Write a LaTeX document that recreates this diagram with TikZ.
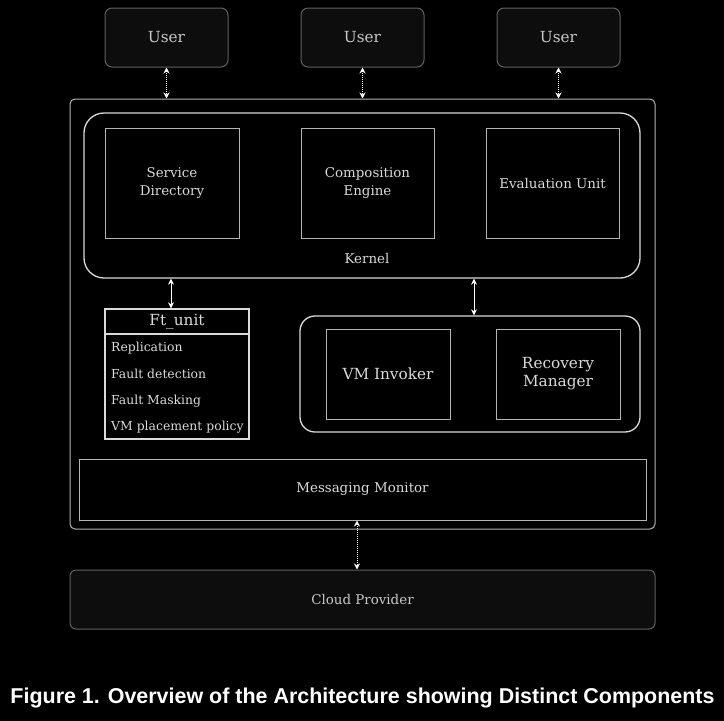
\documentclass[tikz,border=0pt]{standalone}
\usepackage{fontspec}
\setmainfont{DejaVu Serif}
\newfontfamily\capfont{Liberation Sans}
\usetikzlibrary{arrows.meta}
\definecolor{txt}{HTML}{DADADA}
\definecolor{usertxt}{HTML}{C8C8C8}
\definecolor{boxline}{HTML}{B4B4B4}
\definecolor{darkfill}{HTML}{0D0D0D}
\definecolor{darkline}{HTML}{606060}
\tikzset{
  base/.style={draw, line width=1pt, inner sep=0pt, align=center, text=txt,
    font=\fontsize{13.4}{18.5}\selectfont},
  bigtext/.style={font=\fontsize{15.3}{18}\selectfont},
  userbox/.style={base, draw=darkline, fill=darkfill, rounded corners=7pt,
    minimum width=123pt, minimum height=59pt, text=usertxt},
  outerbox/.style={base, draw=boxline, fill=black, rounded corners=5pt,
    minimum width=585pt, minimum height=430pt},
  groupbox/.style={base, draw=txt, line width=1.3pt},
  compbox/.style={base, draw=boxline, minimum height=110pt},
  vmcomp/.style={base, bigtext, draw=boxline, minimum width=124pt, minimum height=90pt},
  item/.style={text=txt, anchor=west, inner sep=0pt, font=\fontsize{12.4}{14}\selectfont},
  dotarrow/.style={draw=white, line width=1pt, densely dotted,
    {Stealth[length=6pt,width=6pt]}-{Stealth[length=6pt,width=6pt]}},
  solidarrow/.style={draw=white, line width=0.9pt,
    {Stealth[length=6pt,width=6pt]}-{Stealth[length=6pt,width=6pt]}},
}
\begin{document}
\begin{tikzpicture}[x=1pt,y=-1pt]
\fill[black] (0,0) rectangle (724,721);
\useasboundingbox (0,0) rectangle (724,721);

% users
\node[userbox, bigtext] (u1) at (166.5,37.5) {User};
\node[userbox, bigtext] (u2) at (362.5,37.5) {User};
\node[userbox, bigtext] (u3) at (558.5,37.5) {User};

% outer box
\node[outerbox] (outer) at (362.5,314) {};

% kernel
\node[groupbox, rounded corners=20pt, minimum width=556pt, minimum height=165pt] (kernel) at (362,195.5) {};
\node[text=txt, font=\fontsize{13.4}{16}\selectfont] (klabel) at (367,258) {Kernel};
\node[compbox, minimum width=134pt] (sd) at (172,183) {Service\\Directory};
\node[compbox, minimum width=133pt] (ce) at (367.5,183) {Composition\\Engine};
\node[compbox, minimum width=133pt] (eu) at (552.5,183) {Evaluation Unit};

% Ft_unit
\node[base, draw=txt, line width=1.3pt, minimum width=144pt, minimum height=130pt] (ft) at (177,374) {};
\draw[draw=txt, line width=1.3pt] (ft.west |- 0,334) -- (ft.east |- 0,334);
\node[text=txt, bigtext] (fttitle) at (177,322) {Ft\_unit};
\node[item] (i1) at (111,348) {Replication};
\node[item] (i2) at (111,374) {Fault detection};
\node[item] (i3) at (111,401) {Fault Masking};
\node[item] (i4) at (111,427) {VM placement policy};

% VM group
\node[groupbox, rounded corners=15pt, minimum width=340pt, minimum height=116pt] (vm) at (470,374) {};
\node[vmcomp] (vmi) at (388,374) {VM Invoker};
\node[vmcomp] (rm) at (558,374) {Recovery\\Manager};

% messaging monitor
\node[base, draw=boxline, minimum width=567pt, minimum height=61pt] (mm) at (362.5,489.5) {Messaging Monitor};

% cloud
\node[userbox, rounded corners=6pt, minimum width=585pt, minimum height=59pt] (cloud) at (362.5,599.5) {Cloud Provider};

% connectors
\draw[dotarrow] (u1.south) -- (u1.south |- outer.north);
\draw[dotarrow] (u2.south) -- (u2.south |- outer.north);
\draw[dotarrow] (u3.south) -- (u3.south |- outer.north);
\draw[solidarrow] ([xshift=-6pt]ft.north |- kernel.south) -- ([xshift=-6pt]ft.north);
\draw[solidarrow] ([xshift=4pt]vm.north |- kernel.south) -- ([xshift=4pt]vm.north);
\draw[dotarrow] ([xshift=-5.5pt]mm.south) -- ([xshift=-5.5pt]mm.south |- cloud.north);

% caption
\node[text=white, font=\capfont\bfseries] (cap) at (362.5,698) {\resizebox{704pt}{!}{Figure 1. Overview of the Architecture showing Distinct Components}};
\end{tikzpicture}
\end{document}
